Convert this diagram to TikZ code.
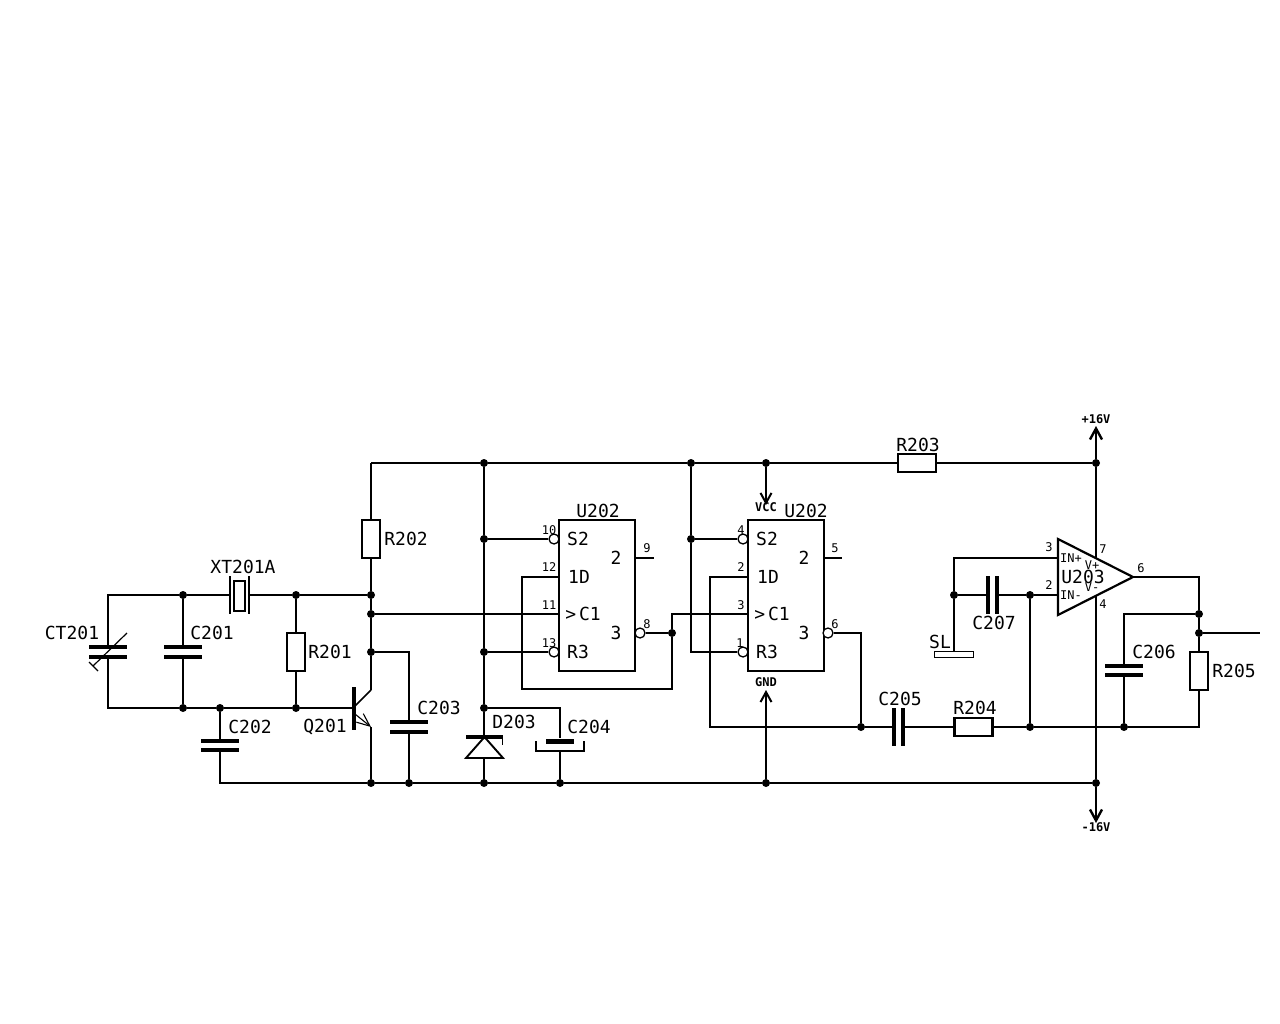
\documentclass[tikz,border=0pt]{standalone}
\usepackage{fontspec}
\setmainfont{DejaVu Sans Mono}
\usepackage{tikz}
\usetikzlibrary{arrows.meta}

\begin{document}
\begin{tikzpicture}[
    x=1pt, y=-1pt,
    wire/.style={line width=1.5pt, line join=miter},
    part name/.style={font=\fontsize{18}{18}\selectfont, inner sep=0pt},
    pin no/.style={font=\fontsize{12}{12}\selectfont, inner sep=0pt},
    rail name/.style={font=\fontsize{12}{12}\selectfont\bfseries, inner sep=0pt},
    dot/.style={circle, fill=black, inner sep=0pt, minimum size=8pt},
    bubble/.style={circle, draw=black, line width=1.3pt, fill=white, inner sep=0pt, minimum size=10pt},
    res h/.style={rectangle, draw=black, line width=2.2pt, fill=white, inner sep=0pt, minimum width=38pt, minimum height=18pt},
    res v/.style={rectangle, draw=black, line width=2.2pt, fill=white, inner sep=0pt, minimum width=18pt, minimum height=38pt},
    plate h/.style={rectangle, fill=black, inner sep=0pt, minimum width=38pt, minimum height=4.5pt},
    plate v/.style={rectangle, fill=black, inner sep=0pt, minimum width=4.5pt, minimum height=38pt},
    ic box/.style={rectangle, draw=black, line width=2.2pt, inner sep=0pt, minimum width=76pt, minimum height=151pt},
    supply/.style={wire, -{Straight Barb[length=11pt,width=12pt,line width=2.4pt]}}
]
    \useasboundingbox (0,0) rectangle (1280,1024);

    % Junctions along the rails
    \node[dot] (top1) at (484,463) {};
    \node[dot] (top2) at (691,463) {};
    \node[dot] (top3) at (766,463) {};
    \node[dot] (top4) at (1096,463) {};
    \node[dot] (bot1) at (371,783) {};
    \node[dot] (bot2) at (409,783) {};
    \node[dot] (bot3) at (484,783) {};
    \node[dot] (bot4) at (560,783) {};
    \node[dot] (bot5) at (766,783) {};
    \node[dot] (bot6) at (1096,783) {};

    % Other junctions
    \node[dot] (xtl) at (183,595) {};
    \node[dot] (xtr) at (296,595) {};
    \node[dot] (basel) at (183,708) {};
    \node[dot] (basem) at (220,708) {};
    \node[dot] (baser) at (296,708) {};
    \node[dot] (col1) at (371,595) {};
    \node[dot] (col2) at (371,614) {};
    \node[dot] (col3) at (371,652) {};
    \node[dot] (bus1) at (484,539) {};
    \node[dot] (bus2) at (484,652) {};
    \node[dot] (bus3) at (484,708) {};
    \node[dot] (bus4) at (691,539) {};
    \node[dot] (qa) at (672,633) {};
    \node[dot] (fbl) at (861,727) {};
    \node[dot] (sum1) at (954,595) {};
    \node[dot] (sum2) at (1030,595) {};
    \node[dot] (sum3) at (1030,727) {};
    \node[dot] (sum4) at (1124,727) {};
    \node[dot] (out1) at (1199,614) {};
    \node[dot] (out2) at (1199,633) {};

    % Resistors
    \node[res v] (r201) at (296,652) {};
    \node[res v] (r202) at (371,539) {};
    \node[res h] (r203) at (917,463) {};
    \node[res h] (r204) at (973.5,727) {};
    \node[res v] (r205) at (1199,671) {};

    % Capacitors (two plates each)
    \node[plate h] (ct201a) at (108,647) {};
    \node[plate h] (ct201b) at (108,657) {};
    \node[plate h] (c201a) at (183,647) {};
    \node[plate h] (c201b) at (183,657) {};
    \node[plate h] (c202a) at (220,741) {};
    \node[plate h] (c202b) at (220,750) {};
    \node[plate h] (c203a) at (409,722) {};
    \node[plate h] (c203b) at (409,732) {};
    \node[plate v] (c205a) at (894,727) {};
    \node[plate v] (c205b) at (903,727) {};
    \node[plate h] (c206a) at (1124,666) {};
    \node[plate h] (c206b) at (1124,675) {};
    \node[plate v] (c207a) at (988,595) {};
    \node[plate v] (c207b) at (997,595) {};

    % C204, polarised
    \node[rectangle, fill=black, inner sep=0pt, minimum width=28pt, minimum height=5pt] (c204a) at (560,741) {};
    \coordinate (c204b) at (560,751);
    \draw[line width=1.6pt] (536,741) -- (536,751) -- (584,751) -- (584,741);

    % Variable capacitor arrow
    \coordinate (cta) at (127,633);
    \coordinate (ctb) at (93,666);
    \draw[line width=1.2pt] (cta) -- (ctb);
    \draw[line width=1.2pt] (89,662) -- (98,671);

    % Crystal
    \node[plate v, minimum width=2.5pt] (xta) at (230,595) {};
    \node[plate v, minimum width=2.5pt] (xtb) at (249,595) {};
    \node[rectangle, draw=black, line width=2pt, inner sep=0pt, minimum width=11pt, minimum height=30pt] (xtc) at (239.5,596) {};

    % Transistor
    \node[rectangle, fill=black, inner sep=0pt, minimum width=4.5pt, minimum height=43pt] (qbar) at (354,708) {};
    \coordinate (qcol) at (371,690);
    \coordinate (qcolb) at (355,706);
    \coordinate (qemib) at (355,714);
    \coordinate (qemi) at (371,727);
    \draw[wire] (qcol) -- (qcolb);
    \draw[line width=1.1pt, -{Straight Barb[length=13pt,width=11pt]}] (qemib) -- (qemi);

    % Zener diode
    \node[rectangle, fill=black, inner sep=0pt, minimum width=37pt, minimum height=4.5pt] (d203) at (484,737) {};
    \coordinate (d203b) at (484,758);
    \draw[line width=1.9pt, line join=miter] (466,758) -- (503,758) -- (484.5,737) -- cycle;
    \draw[line width=1pt] (502.5,737) -- (502.5,745);

    % The two flip-flops
    \node[ic box] (u202a) at (597,595.5) {};
    \node[ic box] (u202b) at (786,595.5) {};
    \node[bubble] (s2a) at (554,539) {};
    \node[bubble] (r3a) at (554,652) {};
    \node[bubble] (qna) at (640,633) {};
    \node[bubble] (s2b) at (743,539) {};
    \node[bubble] (r3b) at (743,652) {};
    \node[bubble] (qnb) at (828,633) {};
    \coordinate (d1a) at (559,577);
    \coordinate (clka) at (559,614);
    \coordinate (q2a) at (635,558);
    \coordinate (q2ae) at (654,558);
    \coordinate (d1b) at (748,577);
    \coordinate (clkb) at (748,614);
    \coordinate (q2b) at (824,558);
    \coordinate (q2be) at (842,558);

    % Op amp
    \coordinate (opa) at (1058,539);
    \coordinate (opb) at (1058,615);
    \coordinate (opc) at (1133,577);
    \coordinate (inp) at (1058,558);
    \coordinate (inm) at (1058,595);
    \coordinate (vp) at (1096,558);
    \coordinate (vm) at (1096,596);
    \draw[line width=2.2pt, line join=miter] (opa) -- (opc) -- (opb) -- cycle;

    % SL pad
    \node[rectangle, draw=black, line width=1.8pt, inner sep=0pt, minimum width=39pt, minimum height=6pt] (sl) at (954,654.5) {};

    % Bends and free ends
    \coordinate (ctt) at (108,595);
    \coordinate (ctm) at (108,708);
    \coordinate (railtl) at (371,463);
    \coordinate (railbl) at (220,783);
    \coordinate (c203t) at (409,652);
    \coordinate (c204t) at (560,708);
    \coordinate (fbla) at (522,577);
    \coordinate (fblb) at (522,689);
    \coordinate (fblc) at (672,689);
    \coordinate (clkm) at (672,614);
    \coordinate (r3m) at (691,652);
    \coordinate (fbra) at (710,577);
    \coordinate (fbrb) at (710,727);
    \coordinate (qnc) at (861,633);
    \coordinate (slt) at (954,558);
    \coordinate (opo) at (1199,577);
    \coordinate (c206t) at (1124,614);
    \coordinate (r205b) at (1199,727);
    \coordinate (outend) at (1260,633);
    \coordinate (vpos) at (1096,426);
    \coordinate (vneg) at (1096,823);
    \coordinate (vcc) at (766,505);
    \coordinate (gnd) at (766,690);

    % Rails
    \draw[wire] (railtl) -- (top1) -- (top2) -- (top3) -- (r203) -- (top4);
    \draw[wire] (c202b) -- (railbl) -- (bot1) -- (bot2) -- (bot3) -- (bot4) -- (bot5) -- (bot6);
    \draw[supply] (top4) -- (vpos);
    \draw[supply] (bot6) -- (vneg);
    \draw[wire] (top4) -- (vp);
    \draw[wire] (vm) -- (bot6);
    \draw[wire, -{Straight Barb[length=10pt,width=11pt,line width=2pt]}] (top3) -- (vcc);
    \draw[wire, -{Straight Barb[length=10pt,width=11pt,line width=2pt]}] (bot5) -- (gnd);

    % Oscillator
    \draw[wire] (ct201a) -- (ctt) -- (xtl) -- (xta);
    \draw[wire] (xtb) -- (xtr) -- (col1);
    \draw[wire] (ct201b) -- (ctm) -- (basel) -- (basem) -- (baser) -- (qbar);
    \draw[wire] (xtl) -- (c201a);
    \draw[wire] (c201b) -- (basel);
    \draw[wire] (basem) -- (c202a);
    \draw[wire] (xtr) -- (r201);
    \draw[wire] (r201) -- (baser);
    \draw[wire] (railtl) -- (r202);
    \draw[wire] (r202) -- (col1) -- (col2) -- (col3) -- (qcol);
    \draw[wire] (qemi) -- (bot1);
    \draw[wire] (col3) -- (c203t) -- (c203a);
    \draw[wire] (c203b) -- (bot2);

    % Bus at x=484 and diode
    \draw[wire] (top1) -- (bus1) -- (bus2) -- (bus3) -- (d203);
    \draw[wire] (d203b) -- (bot3);
    \draw[wire] (bus3) -- (c204t) -- (c204a);
    \draw[wire] (c204b) -- (bot4);

    % First flip-flop
    \draw[wire] (bus1) -- (s2a);
    \draw[wire] (bus2) -- (r3a);
    \draw[wire] (col2) -- (clka);
    \draw[wire] (d1a) -- (fbla) -- (fblb) -- (fblc) -- (qa);
    \draw[wire] (qna) -- (qa) -- (clkm) -- (clkb);
    \draw[wire] (q2a) -- (q2ae);

    % Second flip-flop
    \draw[wire] (top2) -- (bus4) -- (r3m) -- (r3b);
    \draw[wire] (bus4) -- (s2b);
    \draw[wire] (d1b) -- (fbra) -- (fbrb) -- (fbl) -- (c205a);
    \draw[wire] (qnb) -- (qnc) -- (fbl);
    \draw[wire] (q2b) -- (q2be);
    \draw[wire] (c205b) -- (r204) -- (sum3) -- (sum4) -- (r205b) -- (r205);

    % Op amp inputs and output
    \draw[wire] (inp) -- (slt) -- (sum1) -- (sl);
    \draw[wire] (sum1) -- (c207a);
    \draw[wire] (c207b) -- (sum2) -- (inm);
    \draw[wire] (sum2) -- (sum3);
    \draw[wire] (opc) -- (opo) -- (out1) -- (out2) -- (r205);
    \draw[wire] (out1) -- (c206t) -- (c206a);
    \draw[wire] (c206b) -- (sum4);
    \draw[wire] (out2) -- (outend);

    % Part names
    \node[part name] (lxt) at (243,567) {XT201A};
    \node[part name] (lct) at (72,633) {CT201};
    \node[part name] (lc201) at (212,633) {C201};
    \node[part name] (lr201) at (330,652) {R201};
    \node[part name] (lc202) at (250,727) {C202};
    \node[part name] (lq) at (325,727) {Q201};
    \node[part name] (lr202) at (406,539) {R202};
    \node[part name] (lc203) at (439,708) {C203};
    \node[part name] (ld) at (514,722) {D203};
    \node[part name] (lc204) at (589,727) {C204};
    \node[part name] (lua) at (598,511) {U202};
    \node[part name] (lub) at (806,511) {U202};
    \node[part name] (lr203) at (918,445) {R203};
    \node[part name] (lc205) at (900,699) {C205};
    \node[part name] (lr204) at (975,708) {R204};
    \node[part name] (lc206) at (1154,652) {C206};
    \node[part name] (lr205) at (1234,671) {R205};
    \node[part name] (lc207) at (994,623) {C207};
    \node[part name] (lsl) at (940,642) {SL};
    \node[part name] (lop) at (1083,577) {U203};

    % Texts inside the flip-flops
    \node[part name] (sa) at (578,539) {S2};
    \node[part name] (da) at (579,577) {1D};
    \node[part name] (ca) at (583,614) {>\kern3pt C1};
    \node[part name] (ra) at (578,652) {R3};
    \node[part name] (ta) at (616,558) {2};
    \node[part name] (tha) at (616,633) {3};
    \node[part name] (sb) at (767,539) {S2};
    \node[part name] (db) at (768,577) {1D};
    \node[part name] (cb) at (772,614) {>\kern3pt C1};
    \node[part name] (rb) at (767,652) {R3};
    \node[part name] (tb) at (804,558) {2};
    \node[part name] (thb) at (804,633) {3};

    % Pin numbers
    \node[pin no] (p10) at (549,530) {10};
    \node[pin no] (p12) at (549,567) {12};
    \node[pin no] (p11) at (549,605) {11};
    \node[pin no] (p13) at (549,643) {13};
    \node[pin no] (p9) at (647,548) {9};
    \node[pin no] (p8) at (647,624) {8};
    \node[pin no] (p4) at (741,530) {4};
    \node[pin no] (p2) at (741,567) {2};
    \node[pin no] (p3) at (741,605) {3};
    \node[pin no] (p1) at (740,643) {1};
    \node[pin no] (p5) at (835,548) {5};
    \node[pin no] (p6) at (835,624) {6};
    \node[pin no] (oa3) at (1049,547) {3};
    \node[pin no] (oa2) at (1049,585) {2};
    \node[pin no] (oa7) at (1103,549) {7};
    \node[pin no] (oa4) at (1103,604) {4};
    \node[pin no] (oa6) at (1141,568) {6};
    \node[pin no] (inpt) at (1071,558) {IN+};
    \node[pin no] (inmt) at (1071,595) {IN-};
    \node[pin no] (vpt) at (1092,565) {V+};
    \node[pin no] (vmt) at (1092,587) {V-};
    \node[rail name] (vcct) at (766,507) {VCC};
    \node[rail name] (gndt) at (766,682) {GND};
    \node[rail name] (vpost) at (1096,419) {+16V};
    \node[rail name] (vnegt) at (1096,827) {-16V};
\end{tikzpicture}
\end{document}
